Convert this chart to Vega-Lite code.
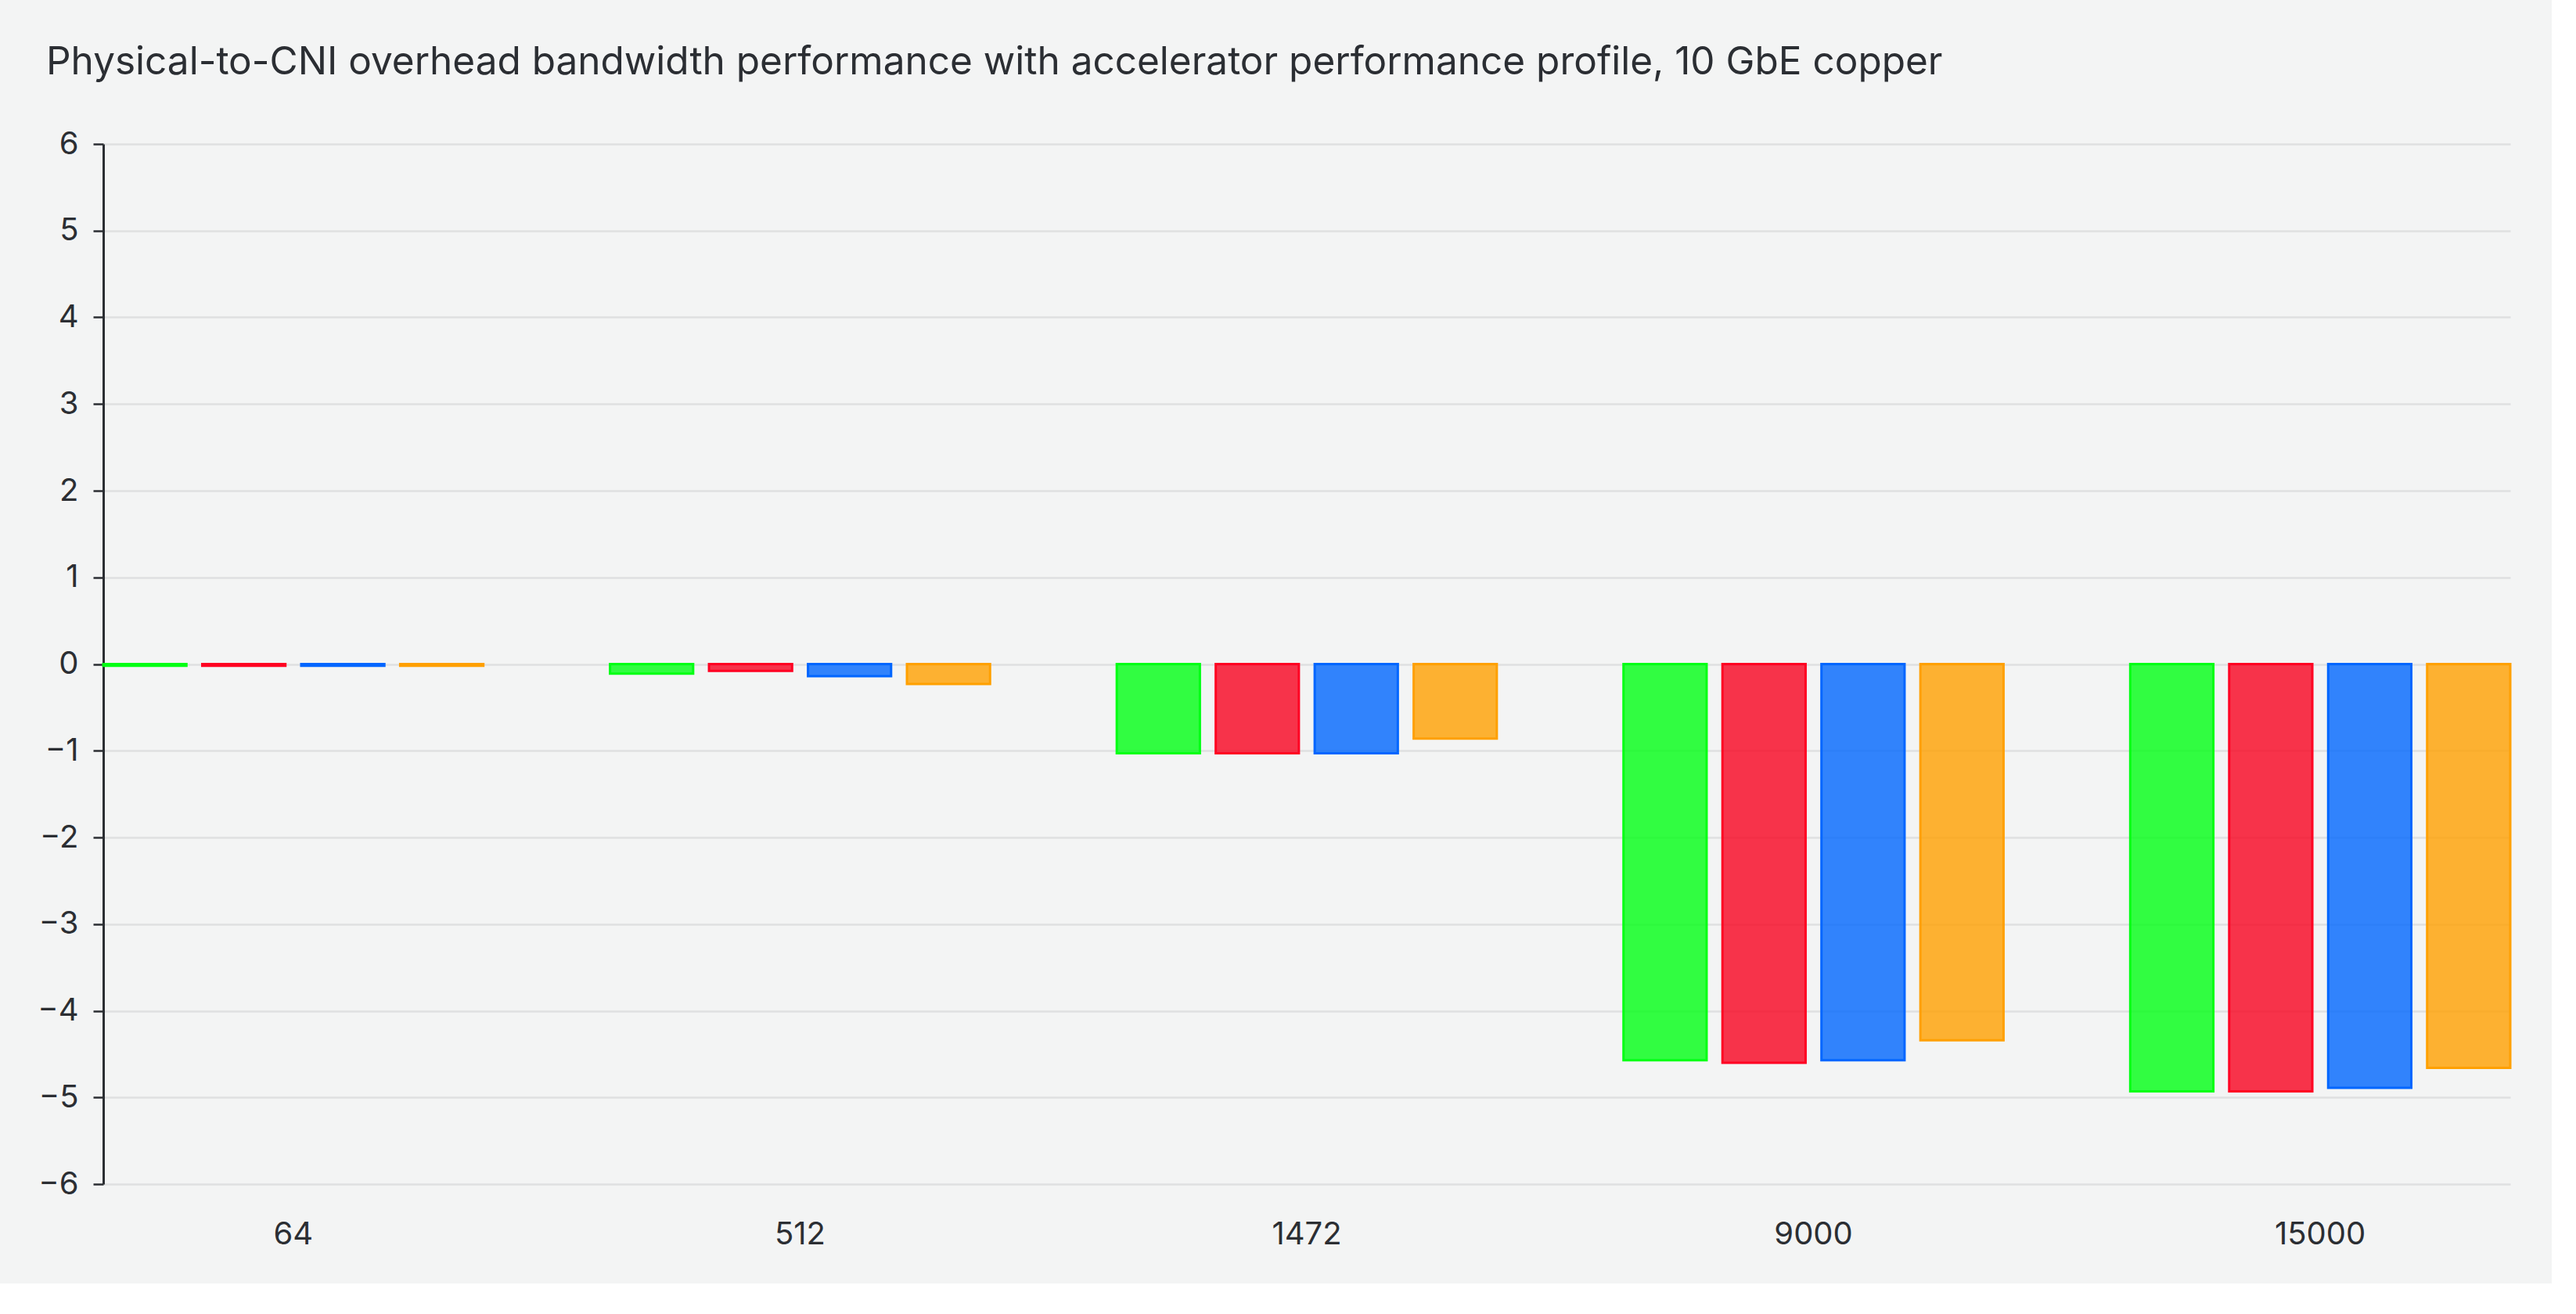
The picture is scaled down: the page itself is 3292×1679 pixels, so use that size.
{
  "$schema": "https://vega.github.io/schema/vega-lite/v6.json",
  "autosize": {"type": "none"},
  "width": 3076,
  "height": 1329,
  "padding": {"left": 132, "top": 184, "right": 53, "bottom": 127},
  "background": "#f3f4f4",
  "title": {
    "text": "Physical-to-CNI overhead bandwidth performance with accelerator performance profile, 10 GbE copper",
    "anchor": "start",
    "frame": "group",
    "dx": -73,
    "font": "Inter",
    "fontSize": 49.5,
    "fontWeight": "normal",
    "color": "#2b2e33",
    "baseline": "alphabetic",
    "offset": 20
  },
  "data": {
    "values": [
      {"size": "64", "series": "A", "value": -0.02},
      {"size": "64", "series": "B", "value": -0.02},
      {"size": "64", "series": "C", "value": -0.02},
      {"size": "64", "series": "D", "value": -0.02},
      {"size": "512", "series": "A", "value": -0.11},
      {"size": "512", "series": "B", "value": -0.08},
      {"size": "512", "series": "C", "value": -0.14},
      {"size": "512", "series": "D", "value": -0.23},
      {"size": "1472", "series": "A", "value": -1.03},
      {"size": "1472", "series": "B", "value": -1.03},
      {"size": "1472", "series": "C", "value": -1.03},
      {"size": "1472", "series": "D", "value": -0.86},
      {"size": "9000", "series": "A", "value": -4.57},
      {"size": "9000", "series": "B", "value": -4.6},
      {"size": "9000", "series": "C", "value": -4.57},
      {"size": "9000", "series": "D", "value": -4.34},
      {"size": "15000", "series": "A", "value": -4.93},
      {"size": "15000", "series": "B", "value": -4.93},
      {"size": "15000", "series": "C", "value": -4.89},
      {"size": "15000", "series": "D", "value": -4.66}
    ]
  },
  "mark": {"type": "bar", "strokeWidth": 3, "fillOpacity": 0.8},
  "encoding": {
    "x": {
      "field": "size",
      "type": "nominal",
      "sort": ["64", "512", "1472", "9000", "15000"],
      "scale": {"paddingInner": 0.25, "paddingOuter": 0},
      "axis": {
        "title": null,
        "labelAngle": 0,
        "domain": false,
        "ticks": false,
        "tickSize": 0,
        "grid": false,
        "labelPadding": 44,
        "labelFont": "Inter",
        "labelFontSize": 40,
        "labelColor": "#2b2e33"
      }
    },
    "xOffset": {
      "field": "series",
      "type": "nominal",
      "sort": ["A", "B", "C", "D"],
      "scale": {"paddingInner": 0.16, "paddingOuter": 0}
    },
    "y": {
      "field": "value",
      "type": "quantitative",
      "scale": {"domain": [-6, 6], "nice": false},
      "axis": {
        "title": null,
        "values": [-6, -5, -4, -3, -2, -1, 0, 1, 2, 3, 4, 5, 6],
        "domainColor": "#2b2e33",
        "domainWidth": 3,
        "tickColor": "#2b2e33",
        "tickWidth": 2.5,
        "tickSize": 13,
        "labelPadding": 19,
        "labelFont": "Inter",
        "labelFontSize": 40,
        "labelColor": "#2b2e33",
        "grid": true,
        "gridColor": "#dfe0e1",
        "gridWidth": 2.5
      }
    },
    "fill": {
      "field": "series",
      "type": "nominal",
      "scale": {"domain": ["A", "B", "C", "D"], "range": ["#00ff14", "#f7031f", "#0066fe", "#ffa000"]},
      "legend": null
    },
    "stroke": {
      "field": "series",
      "type": "nominal",
      "scale": {"domain": ["A", "B", "C", "D"], "range": ["#00ff14", "#ff0022", "#0066ff", "#ffa000"]},
      "legend": null
    }
  },
  "config": {"view": {"stroke": null}}
}
